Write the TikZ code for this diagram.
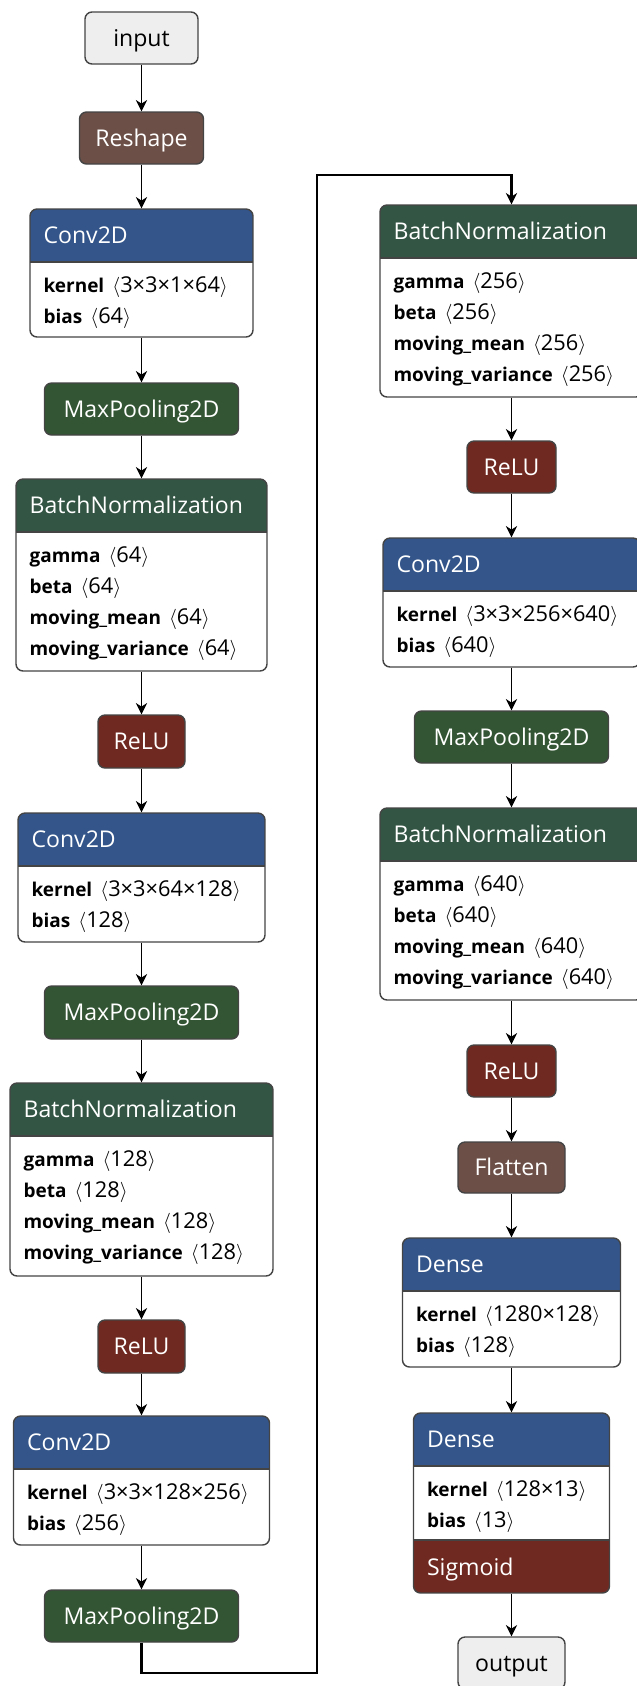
\documentclass[tikz,border=0pt]{standalone}
\usepackage{fontspec}
\setmainfont{Open Sans}
\usetikzlibrary{arrows.meta,positioning,calc}

\definecolor{iogray}{HTML}{EEEEEE}
\definecolor{edgegray}{HTML}{444444}
\definecolor{shapebrown}{HTML}{6C4F47}
\definecolor{layerblue}{HTML}{33558A}
\definecolor{normgreen}{HTML}{335544}
\definecolor{poolgreen}{HTML}{335533}
\definecolor{actred}{HTML}{702921}

% forma de un tensor, p.ej. <3x3x1x64>
\newcommand{\tdims}[1]{\,{\fontsize{15.5}{22}\selectfont$\langle$#1$\rangle$}}

\begin{document}
\begin{tikzpicture}[x=0.025cm, y=0.025cm,
  flow/.style={-{Stealth[length=8pt,width=8pt,inset=2.5pt]}, line width=1.1pt},
  route/.style={flow, line width=1.6pt},
  sz/.style 2 args={minimum width=#1*0.025cm, minimum height=#2*0.025cm},
  op/.style={draw=edgegray, line width=1pt, rounded corners=5pt, inner sep=0pt,
    text=white, font=\fontsize{16.4}{20}\selectfont, text height=11.7pt, text depth=0pt},
  io/.style={op, fill=iogray, text=black},
  layer/.style={draw=edgegray, fill=white, line width=1pt, rounded corners=5pt, inner sep=0pt,
    path picture={
      \fill[#1, sharp corners] (path picture bounding box.north west) rectangle ([yshift=-1.325cm]path picture bounding box.north east);
      \draw[edgegray, line width=1pt, sharp corners] ([yshift=-1.325cm]path picture bounding box.north west) -- ([yshift=-1.325cm]path picture bounding box.north east);}},
  lastlayer/.style 2 args={draw=edgegray, fill=white, line width=1pt, rounded corners=5pt, inner sep=0pt,
    path picture={
      \fill[#1, sharp corners] (path picture bounding box.north west) rectangle ([yshift=-1.325cm]path picture bounding box.north east);
      \fill[#2, sharp corners] (path picture bounding box.south west) rectangle ([yshift=1.325cm]path picture bounding box.south east);
      \draw[edgegray, line width=1pt, sharp corners] ([yshift=-1.325cm]path picture bounding box.north west) -- ([yshift=-1.325cm]path picture bounding box.north east);
      \draw[edgegray, line width=1pt, sharp corners] ([yshift=1.325cm]path picture bounding box.south west) -- ([yshift=1.325cm]path picture bounding box.south east);}},
  ttl/.style={anchor=base west, inner sep=0pt, text=white, font=\fontsize{16.4}{20}\selectfont},
  rows/.style={anchor=north west, inner sep=0pt, align=left, font=\fontsize{13.5}{22}\selectfont}
]
  \useasboundingbox (0,0) rectangle (637,-1686);
  \clip (0,0) rectangle (637,-1686);

  % --- COLUMNA IZQUIERDA ---
  \node[io, sz={113}{52}] (inp) at (141.5,-38) {input};
  \node[op, sz={124}{52}, fill=shapebrown] (resh) at (141.5,-138) {Reshape};

  % Conv2D 1
  \node[layer=layerblue, sz={223}{128}] (c1) at (141.5,-273) {};
  \node[ttl] (c1t) at ($(c1.north west)+(14,-35)$) {Conv2D};
  \node[rows] (c1b) at ($(c1.north west)+(14,-68)$) {\textbf{kernel} \tdims{3×3×1×64}\\\textbf{bias} \tdims{64}};
  \node[op, sz={194}{52}, fill=poolgreen] (mp1) at (141.5,-409) {MaxPooling2D};

  % BatchNormalization 1
  \node[layer=normgreen, sz={251}{192}] (bn1) at (141.5,-575) {};
  \node[ttl] (bn1t) at ($(bn1.north west)+(14,-35)$) {BatchNormalization};
  \node[rows] (bn1b) at ($(bn1.north west)+(14,-68)$) {\textbf{gamma} \tdims{64}\\\textbf{beta} \tdims{64}\\\textbf{moving\_mean} \tdims{64}\\\textbf{moving\_variance} \tdims{64}};
  \node[op, sz={87}{53}, fill=actred] (r1) at (141.5,-741.5) {ReLU};

  % Conv2D 2
  \node[layer=layerblue, sz={247}{129}] (c2) at (141.5,-877.5) {};
  \node[ttl] (c2t) at ($(c2.north west)+(14,-35)$) {Conv2D};
  \node[rows] (c2b) at ($(c2.north west)+(14,-68)$) {\textbf{kernel} \tdims{3×3×64×128}\\\textbf{bias} \tdims{128}};
  \node[op, sz={194}{53}, fill=poolgreen] (mp2) at (141.5,-1012.5) {MaxPooling2D};

  % BatchNormalization 2
  \node[layer=normgreen, sz={263}{193}] (bn2) at (141.5,-1179.5) {};
  \node[ttl] (bn2t) at ($(bn2.north west)+(14,-35)$) {BatchNormalization};
  \node[rows] (bn2b) at ($(bn2.north west)+(14,-68)$) {\textbf{gamma} \tdims{128}\\\textbf{beta} \tdims{128}\\\textbf{moving\_mean} \tdims{128}\\\textbf{moving\_variance} \tdims{128}};
  \node[op, sz={87}{53}, fill=actred] (r2) at (141.5,-1346.5) {ReLU};

  % Conv2D 3
  \node[layer=layerblue, sz={256}{129}] (c3) at (141.5,-1480.5) {};
  \node[ttl] (c3t) at ($(c3.north west)+(14,-35)$) {Conv2D};
  \node[rows] (c3b) at ($(c3.north west)+(14,-68)$) {\textbf{kernel} \tdims{3×3×128×256}\\\textbf{bias} \tdims{256}};
  \node[op, sz={194}{52}, fill=poolgreen] (mp3) at (141.5,-1616) {MaxPooling2D};

  % --- COLUMNA DERECHA ---
  \node[layer=normgreen, sz={263}{192}] (bn3) at (511.5,-301) {};
  \node[ttl] (bn3t) at ($(bn3.north west)+(14,-35)$) {BatchNormalization};
  \node[rows] (bn3b) at ($(bn3.north west)+(14,-68)$) {\textbf{gamma} \tdims{256}\\\textbf{beta} \tdims{256}\\\textbf{moving\_mean} \tdims{256}\\\textbf{moving\_variance} \tdims{256}};
  \node[op, sz={89}{52}, fill=actred] (r3) at (511.5,-467) {ReLU};

  % Conv2D 4
  \node[layer=layerblue, sz={257}{129}] (c4) at (511.5,-602.5) {};
  \node[ttl] (c4t) at ($(c4.north west)+(14,-35)$) {Conv2D};
  \node[rows] (c4b) at ($(c4.north west)+(14,-68)$) {\textbf{kernel} \tdims{3×3×256×640}\\\textbf{bias} \tdims{640}};
  \node[op, sz={194}{52}, fill=poolgreen] (mp4) at (511.5,-737) {MaxPooling2D};

  % BatchNormalization 4
  \node[layer=normgreen, sz={263}{192}] (bn4) at (511.5,-904) {};
  \node[ttl] (bn4t) at ($(bn4.north west)+(14,-35)$) {BatchNormalization};
  \node[rows] (bn4b) at ($(bn4.north west)+(14,-68)$) {\textbf{gamma} \tdims{640}\\\textbf{beta} \tdims{640}\\\textbf{moving\_mean} \tdims{640}\\\textbf{moving\_variance} \tdims{640}};
  \node[op, sz={89}{52}, fill=actred] (r4) at (511.5,-1071) {ReLU};
  \node[op, sz={107}{51}, fill=shapebrown] (flat) at (511.5,-1167.5) {Flatten};

  % Dense 1 y Dense 2 (con Sigmoid)
  \node[layer=layerblue, sz={218}{129}] (d1) at (511.5,-1302.5) {};
  \node[ttl] (d1t) at ($(d1.north west)+(14,-35)$) {Dense};
  \node[rows] (d1b) at ($(d1.north west)+(14,-68)$) {\textbf{kernel} \tdims{1280×128}\\\textbf{bias} \tdims{128}};
  \node[lastlayer={layerblue}{actred}, sz={196}{180}] (d2) at (511.5,-1503) {};
  \node[ttl] (d2t) at ($(d2.north west)+(14,-35)$) {Dense};
  \node[rows] (d2b) at ($(d2.north west)+(14,-68)$) {\textbf{kernel} \tdims{128×13}\\\textbf{bias} \tdims{13}};
  \node[ttl] (d2s) at ($(d2.south west)+(14,18)$) {Sigmoid};
  \node[io, sz={107}{52}] (outp) at (511.5,-1663) {output};

  % --- CONEXIONES ---
  \draw[flow] (inp.south) -- (resh.north);
  \draw[flow] (resh.south) -- (c1.north);
  \draw[flow] (c1.south) -- (mp1.north);
  \draw[flow] (mp1.south) -- (bn1.north);
  \draw[flow] (bn1.south) -- (r1.north);
  \draw[flow] (r1.south) -- (c2.north);
  \draw[flow] (c2.south) -- (mp2.north);
  \draw[flow] (mp2.south) -- (bn2.north);
  \draw[flow] (bn2.south) -- (r2.north);
  \draw[flow] (r2.south) -- (c3.north);
  \draw[flow] (c3.south) -- (mp3.north);

  % Salto de columna
  \draw[route] (mp3.south) |- (317,-1673) -- (317,-175) -| (bn3.north);

  \draw[flow] (bn3.south) -- (r3.north);
  \draw[flow] (r3.south) -- (c4.north);
  \draw[flow] (c4.south) -- (mp4.north);
  \draw[flow] (mp4.south) -- (bn4.north);
  \draw[flow] (bn4.south) -- (r4.north);
  \draw[flow] (r4.south) -- (flat.north);
  \draw[flow] (flat.south) -- (d1.north);
  \draw[flow] (d1.south) -- (d2.north);
  \draw[flow] (d2.south) -- (outp.north);

\end{tikzpicture}
\end{document}
